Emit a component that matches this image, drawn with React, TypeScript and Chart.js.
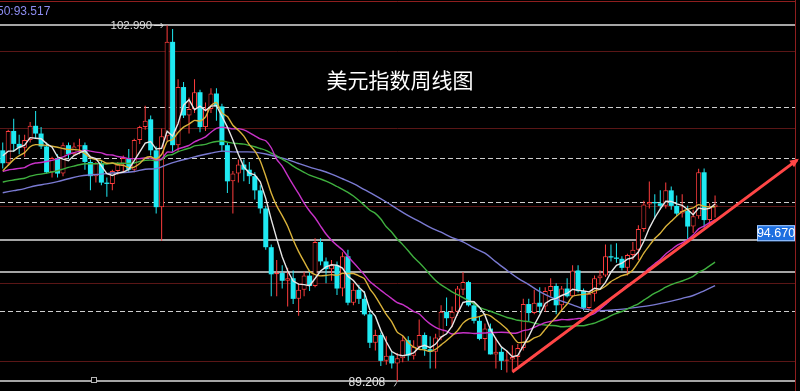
import React, { useEffect, useRef } from "react";
import { Chart, registerables } from "chart.js";

Chart.register(...registerables);

// ---- weekly U.S. dollar index data ----
const FIRST_WEEK_UTC = Date.UTC(2019, 7, 19);
const SLOT_COUNT = 146; // weeks shown plus empty room on the right

const OPEN = [98.15, 97.65, 98.90, 98.40, 98.25, 98.55, 99.10, 98.80, 98.30, 97.30,
  97.85, 97.25, 98.35, 98.00, 98.30, 98.35, 97.70, 97.15, 97.65, 96.90,
  96.85, 97.35, 97.60, 97.85, 97.40, 98.55, 99.05, 99.35, 98.15, 95.95,
  98.70, 102.35, 98.35, 100.60, 99.50, 99.75, 100.40, 99.05, 99.75, 100.35,
  99.85, 98.35, 96.95, 97.25, 97.60, 97.40, 97.15, 96.60, 95.90, 94.40,
  93.35, 93.40, 93.10, 93.20, 92.40, 92.75, 93.30, 92.90, 94.60, 93.85,
  93.55, 93.70, 92.80, 94.05, 92.25, 92.75, 92.40, 91.80, 90.70, 91.00,
  90.00, 90.20, 89.90, 90.10, 90.80, 90.20, 90.55, 91.00, 90.45, 90.35,
  90.90, 91.90, 91.65, 91.90, 92.75, 93.05, 92.15, 91.55, 90.85, 91.25,
  90.25, 90.35, 90.00, 90.05, 90.15, 90.50, 92.20, 91.85, 92.25, 92.10,
  92.70, 92.90, 92.15, 92.80, 92.50, 93.50, 92.70, 92.05, 92.60, 93.20,
  93.30, 94.05, 94.00, 93.95, 93.60, 94.10, 94.30, 95.10, 96.05, 96.15,
  96.10, 96.00, 96.60, 96.00, 95.70, 95.80, 95.20, 95.60, 97.30, 95.45,
  95.95];

const HIGH = [98.45, 98.95, 99.37, 98.75, 98.75, 99.25, 99.67, 99.05, 98.45, 97.90,
  98.00, 98.45, 98.45, 98.45, 98.60, 98.45, 97.80, 97.70, 97.75, 97.10,
  97.40, 97.70, 97.95, 98.20, 98.60, 99.10, 99.88, 99.50, 98.30, 99.00,
  102.99, 102.85, 100.90, 100.80, 100.20, 100.90, 100.50, 100.00, 100.55, 100.55,
  99.95, 98.45, 97.35, 97.80, 97.80, 97.70, 97.30, 96.80, 96.00, 94.50,
  93.90, 93.70, 93.60, 93.50, 93.00, 93.45, 93.45, 94.75, 94.75, 94.00,
  93.90, 93.85, 94.20, 94.30, 93.00, 92.95, 92.70, 91.90, 91.20, 91.10,
  90.95, 90.35, 90.30, 90.95, 90.95, 90.80, 91.60, 91.10, 90.95, 91.05,
  92.15, 92.45, 92.10, 92.90, 93.44, 93.10, 92.30, 91.70, 91.45, 91.45,
  90.90, 90.50, 90.40, 90.60, 90.65, 92.40, 92.40, 92.75, 92.85, 92.85,
  93.20, 93.00, 92.90, 93.20, 93.70, 93.70, 92.80, 92.65, 93.30, 93.50,
  94.50, 94.50, 94.55, 94.05, 94.15, 94.60, 95.25, 96.20, 96.94, 96.45,
  96.60, 96.90, 96.75, 96.40, 96.45, 96.00, 95.85, 97.44, 97.45, 96.10,
  96.40];

const LOW = [97.45, 97.55, 98.10, 98.00, 97.90, 98.45, 98.60, 98.20, 97.25, 97.10,
  97.10, 97.15, 97.85, 97.95, 98.00, 97.40, 96.60, 96.90, 96.80, 96.35,
  96.60, 97.20, 97.30, 97.30, 97.30, 98.40, 98.95, 97.95, 95.70, 94.65,
  98.50, 98.10, 98.10, 99.40, 98.80, 99.60, 98.85, 98.90, 99.60, 99.30,
  98.10, 96.50, 95.70, 96.90, 96.95, 96.85, 96.25, 95.70, 94.30, 92.50,
  92.50, 92.80, 92.10, 92.20, 91.75, 92.50, 92.70, 92.85, 93.70, 93.00,
  93.10, 92.55, 92.50, 92.15, 92.15, 92.20, 91.75, 90.50, 90.40, 89.80,
  89.85, 89.70, 89.208, 89.95, 90.00, 90.05, 90.45, 90.20, 89.70, 89.70,
  90.80, 91.35, 91.30, 91.75, 92.55, 92.10, 91.45, 90.80, 90.40, 90.25,
  89.70, 89.65, 89.55, 89.65, 89.80, 90.40, 91.50, 91.80, 91.85, 91.90,
  92.50, 91.80, 91.95, 92.45, 92.45, 92.65, 91.95, 91.95, 92.30, 92.95,
  93.25, 93.85, 93.80, 93.50, 93.30, 93.90, 93.90, 95.00, 95.90, 95.50,
  95.85, 95.90, 95.85, 95.60, 95.55, 94.63, 94.95, 95.50, 95.15, 95.25,
  95.55];

const CLOSE = [97.65, 98.90, 98.40, 98.25, 98.55, 99.10, 98.80, 98.30, 97.30, 97.85,
  97.25, 98.35, 98.00, 98.30, 98.35, 97.70, 97.15, 97.65, 96.90, 96.85,
  97.35, 97.60, 97.85, 97.40, 98.55, 99.05, 99.30, 98.15, 95.95, 98.70,
  102.35, 98.35, 100.60, 99.50, 99.75, 100.40, 99.05, 99.75, 100.35, 99.85,
  98.35, 96.95, 97.25, 97.60, 97.40, 97.15, 96.60, 95.90, 94.40, 93.35,
  93.40, 93.10, 93.20, 92.40, 92.75, 93.30, 92.90, 94.60, 93.85, 93.55,
  93.70, 92.80, 94.05, 92.25, 92.75, 92.40, 91.80, 90.70, 91.00, 90.00,
  90.20, 89.90, 90.10, 90.80, 90.20, 90.55, 91.00, 90.45, 90.35, 90.90,
  91.90, 91.65, 91.90, 92.80, 93.05, 92.15, 91.55, 90.85, 91.25, 90.25,
  90.35, 90.00, 90.05, 90.15, 90.50, 92.20, 91.85, 92.25, 92.10, 92.70,
  92.90, 92.15, 92.80, 92.50, 93.50, 92.70, 92.05, 92.60, 93.20, 93.30,
  94.05, 94.00, 93.95, 93.60, 94.10, 94.30, 95.10, 96.05, 96.15, 96.10,
  96.00, 96.60, 96.00, 95.70, 95.80, 95.20, 95.60, 97.30, 95.45, 95.95,
  96.05];

// moving averages
const MA5 = [97.94, 98.12, 98.12, 98.27, 98.35, 98.64, 98.62, 98.60, 98.41, 98.27,
  97.90, 97.81, 97.75, 97.95, 98.05, 98.14, 97.90, 97.83, 97.55, 97.25,
  97.18, 97.27, 97.31, 97.41, 97.75, 98.09, 98.43, 98.49, 98.20, 98.23,
  98.89, 98.70, 99.19, 99.90, 100.11, 99.72, 99.86, 99.69, 99.86, 99.88,
  99.47, 99.05, 98.55, 98.00, 97.51, 97.27, 97.20, 96.93, 96.29, 95.48,
  94.73, 94.03, 93.49, 93.09, 92.97, 92.95, 92.91, 93.19, 93.48, 93.64,
  93.72, 93.70, 93.59, 93.27, 93.11, 92.85, 92.65, 91.98, 91.73, 91.18,
  90.74, 90.36, 90.24, 90.20, 90.24, 90.31, 90.53, 90.60, 90.51, 90.65,
  90.92, 91.05, 91.34, 91.83, 92.26, 92.31, 92.29, 92.08, 91.77, 91.21,
  90.85, 90.54, 90.38, 90.16, 90.21, 90.58, 90.95, 91.39, 91.78, 92.22,
  92.36, 92.42, 92.53, 92.61, 92.77, 92.73, 92.71, 92.67, 92.81, 92.77,
  93.04, 93.43, 93.70, 93.78, 93.94, 93.99, 94.21, 94.63, 95.14, 95.54,
  95.88, 96.18, 96.17, 96.08, 96.02, 95.86, 95.66, 95.92, 95.87, 95.90,
  96.07];

const MA10 = [97.36, 97.57, 97.79, 97.94, 98.06, 98.29, 98.37, 98.36, 98.34, 98.31,
  98.27, 98.22, 98.18, 98.18, 98.16, 98.02, 97.86, 97.79, 97.75, 97.65,
  97.66, 97.59, 97.57, 97.48, 97.50, 97.64, 97.85, 97.90, 97.81, 97.99,
  98.49, 98.57, 98.84, 99.05, 99.17, 99.31, 99.28, 99.44, 99.88, 100.00,
  99.60, 99.46, 99.12, 98.93, 98.70, 98.37, 98.13, 97.74, 97.15, 96.50,
  96.00, 95.62, 95.21, 94.69, 94.23, 93.84, 93.47, 93.34, 93.29, 93.31,
  93.34, 93.31, 93.39, 93.38, 93.38, 93.29, 93.18, 92.79, 92.50, 92.15,
  91.80, 91.51, 91.11, 90.97, 90.71, 90.53, 90.45, 90.42, 90.36, 90.45,
  90.62, 90.79, 90.97, 91.17, 91.46, 91.62, 91.67, 91.71, 91.80, 91.74,
  91.58, 91.42, 91.23, 90.97, 90.71, 90.72, 90.75, 90.89, 90.97, 91.22,
  91.47, 91.69, 91.96, 92.20, 92.50, 92.55, 92.57, 92.60, 92.71, 92.77,
  92.89, 93.07, 93.19, 93.30, 93.36, 93.52, 93.82, 94.17, 94.46, 94.74,
  94.94, 95.20, 95.40, 95.61, 95.78, 95.87, 95.92, 96.05, 95.98, 95.96,
  95.97];

const MA20 = [97.33, 97.39, 97.42, 97.45, 97.48, 97.60, 97.66, 97.68, 97.72, 97.76,
  97.82, 97.90, 97.99, 98.06, 98.11, 98.16, 98.12, 98.08, 98.05, 97.98,
  97.97, 97.91, 97.88, 97.83, 97.83, 97.83, 97.86, 97.85, 97.78, 97.82,
  98.08, 98.08, 98.21, 98.27, 98.34, 98.48, 98.57, 98.67, 98.85, 99.00,
  99.05, 99.02, 98.98, 98.99, 98.94, 98.84, 98.71, 98.59, 98.52, 98.25,
  97.80, 97.54, 97.17, 96.81, 96.47, 96.11, 95.80, 95.54, 95.22, 94.91,
  94.67, 94.47, 94.30, 94.04, 93.81, 93.57, 93.33, 93.07, 92.90, 92.73,
  92.57, 92.41, 92.25, 92.18, 92.05, 91.91, 91.82, 91.61, 91.43, 91.30,
  91.21, 91.15, 91.04, 91.07, 91.09, 91.08, 91.06, 91.07, 91.08, 91.10,
  91.10, 91.11, 91.10, 91.07, 91.09, 91.17, 91.21, 91.30, 91.39, 91.48,
  91.53, 91.56, 91.60, 91.59, 91.61, 91.64, 91.66, 91.75, 91.84, 92.00,
  92.18, 92.38, 92.58, 92.75, 92.93, 93.04, 93.20, 93.39, 93.59, 93.76,
  93.92, 94.14, 94.30, 94.46, 94.57, 94.70, 94.87, 95.11, 95.22, 95.35,
  95.46];

const MA40 = [96.92, 96.97, 97.00, 97.04, 97.07, 97.15, 97.20, 97.23, 97.27, 97.31,
  97.36, 97.42, 97.49, 97.54, 97.59, 97.63, 97.63, 97.63, 97.64, 97.62,
  97.65, 97.65, 97.65, 97.64, 97.66, 97.72, 97.76, 97.77, 97.75, 97.79,
  97.95, 97.99, 98.10, 98.17, 98.23, 98.32, 98.35, 98.38, 98.45, 98.49,
  98.51, 98.47, 98.43, 98.41, 98.39, 98.34, 98.29, 98.22, 98.15, 98.04,
  97.94, 97.81, 97.69, 97.54, 97.41, 97.30, 97.19, 97.11, 97.04, 96.96,
  96.86, 96.75, 96.64, 96.52, 96.38, 96.21, 96.02, 95.83, 95.71, 95.49,
  95.19, 94.98, 94.71, 94.50, 94.26, 94.01, 93.81, 93.58, 93.33, 93.11,
  92.94, 92.81, 92.67, 92.56, 92.45, 92.33, 92.20, 92.07, 91.99, 91.92,
  91.84, 91.76, 91.68, 91.63, 91.57, 91.54, 91.52, 91.46, 91.41, 91.39,
  91.37, 91.36, 91.32, 91.33, 91.35, 91.36, 91.36, 91.41, 91.46, 91.55,
  91.64, 91.75, 91.84, 91.91, 92.01, 92.11, 92.21, 92.35, 92.49, 92.62,
  92.73, 92.85, 92.95, 93.03, 93.09, 93.17, 93.27, 93.43, 93.53, 93.68,
  93.82];

// 60-week average, sampled every second week
const MA60_BIWEEKLY = [96.51, 96.59, 96.67, 96.78, 96.85, 96.94, 97.05, 97.15, 97.20, 97.23,
  97.27, 97.29, 97.33, 97.42, 97.44, 97.60, 97.73, 97.84, 97.95, 98.04,
  98.12, 98.09, 98.09, 98.08, 98.01, 97.90, 97.79, 97.64, 97.50, 97.38,
  97.23, 97.05, 96.86, 96.63, 96.40, 96.15, 95.88, 95.62, 95.40, 95.17,
  94.98, 94.77, 94.61, 94.37, 94.17, 93.83, 93.51, 93.20, 92.95, 92.68,
  92.47, 92.31, 92.17, 92.02, 91.94, 91.95, 91.98, 92.02, 92.08, 92.14,
  92.22, 92.31, 92.42, 92.53, 92.71, 92.91];

// support trend line (week index, price)
const TREND_WEEKS = [93, 145];
const TREND_PRICES = [89.57, 97.78];

// horizontal levels
const PRICE_GRID = [102, 99, 96, 93, 90];
const DASHED_LEVELS = [99.83, 97.85, 96.15, 91.93];
const SOLID_LEVELS = [102.99, 94.67, 93.44, 89.208];

const PEAK_WEEK = 30;
const PEAK_LABEL = "102.990";
const TROUGH_WEEK = 72;
const TROUGH_LABEL = "89.208";
const MARKED_PRICE = 94.67;
const MARKED_LABEL = "94.670";
const MA_READOUT = "50:93.517";
const TITLE = "美元指数周线图";

const Y_MIN = 88.833;
const Y_MAX = 103.97;

const WEEKS = Array.from({ length: SLOT_COUNT }, (_, i) =>
  new Date(FIRST_WEEK_UTC + i * 7 * 86400000).toISOString().slice(0, 10)
);

const UP = "#ff3d3d";
const DOWN = "#1fe9f2";
const FRAME_RIGHT = 795;

const overlay = {
  id: "overlay",
  beforeDatasetsDraw(chart: any) {
    const { ctx } = chart;
    const y = chart.scales.y;
    const hline = (v: number, color: string, width: number, dash: number[]) => {
      const py = Math.round(y.getPixelForValue(v)) + (width % 2 ? 0.5 : 0);
      ctx.beginPath();
      ctx.setLineDash(dash);
      ctx.strokeStyle = color;
      ctx.lineWidth = width;
      ctx.moveTo(0, py);
      ctx.lineTo(FRAME_RIGHT, py);
      ctx.stroke();
    };
    ctx.save();
    PRICE_GRID.forEach((v) => hline(v, "#5a1616", 1, []));
    DASHED_LEVELS.forEach((v) => hline(v, "#cfcfcf", 1, [5, 3]));
    SOLID_LEVELS.forEach((v) => hline(v, "#a5a5a5", 2, []));
    ctx.setLineDash([]);
    ctx.strokeStyle = "#8e1e1e";
    ctx.lineWidth = 1;
    ctx.beginPath();
    ctx.moveTo(0, 1.5);
    ctx.lineTo(FRAME_RIGHT + 0.5, 1.5);
    ctx.moveTo(FRAME_RIGHT + 0.5, 0);
    ctx.lineTo(FRAME_RIGHT + 0.5, chart.height);
    ctx.stroke();
    ctx.restore();
  },
  afterDatasetsDraw(chart: any) {
    const { ctx } = chart;
    const x = chart.scales.x;
    const y = chart.scales.y;
    ctx.save();

    // arrow head on the trend line
    const trendMeta = chart.getDatasetMeta(0);
    const a = trendMeta.data[TREND_WEEKS[0]];
    const b = trendMeta.data[TREND_WEEKS[1]];
    if (a && b) {
      const ang = Math.atan2(b.y - a.y, b.x - a.x);
      const cos = Math.cos(ang), sin = Math.sin(ang);
      const tipX = b.x + cos * 2, tipY = b.y + sin * 2;
      ctx.fillStyle = "#ff4646";
      ctx.beginPath();
      ctx.moveTo(tipX, tipY);
      ctx.lineTo(tipX - cos * 9 - sin * 4, tipY - sin * 9 + cos * 4);
      ctx.lineTo(tipX - cos * 9 + sin * 4, tipY - sin * 9 - cos * 4);
      ctx.closePath();
      ctx.fill();
    }

    // peak label
    const px = x.getPixelForValue(PEAK_WEEK);
    const py = y.getPixelForValue(HIGH[PEAK_WEEK]);
    ctx.font = "11.5px 'Liberation Sans', Arial, sans-serif";
    ctx.fillStyle = "#dcdcdc";
    ctx.textAlign = "right";
    ctx.textBaseline = "middle";
    ctx.fillText(PEAK_LABEL, px - 15, py + 1);
    ctx.strokeStyle = "#dcdcdc";
    ctx.lineWidth = 1;
    ctx.beginPath();
    ctx.moveTo(px - 13, Math.round(py) + 0.5);
    ctx.lineTo(px - 4, Math.round(py) + 0.5);
    ctx.moveTo(px - 6.5, Math.round(py) - 2);
    ctx.lineTo(px - 4, Math.round(py) + 0.5);
    ctx.lineTo(px - 6.5, Math.round(py) + 3);
    ctx.stroke();

    // trough label
    const tx = x.getPixelForValue(TROUGH_WEEK);
    const ty = y.getPixelForValue(LOW[TROUGH_WEEK]);
    ctx.font = "12px 'Liberation Sans', Arial, sans-serif";
    ctx.fillStyle = "#e4e4e4";
    ctx.fillText(TROUGH_LABEL, tx - 12, ty + 1.5);
    ctx.strokeStyle = "#cfcfcf";
    ctx.beginPath();
    ctx.moveTo(tx - 3, ty + 5);
    ctx.lineTo(tx - 0.5, ty + 1);
    ctx.stroke();

    // small marker on the bottom line
    ctx.fillStyle = "#000";
    ctx.fillRect(91, 377, 6, 6);
    ctx.strokeStyle = "#b5b5b5";
    ctx.strokeRect(91.5, 377.5, 5, 5);

    // marked price box
    const my = y.getPixelForValue(MARKED_PRICE);
    ctx.fillStyle = "#1d6fe0";
    ctx.fillRect(757, my - 15, 38, 16);
    ctx.strokeStyle = "#a9cdff";
    ctx.strokeRect(757.5, my - 14.5, 37, 15);
    ctx.fillStyle = "#ffffff";
    ctx.font = "12.5px 'Liberation Sans', Arial, sans-serif";
    ctx.textAlign = "center";
    ctx.fillText(MARKED_LABEL, 776, my - 6.5);

    // moving-average readout
    ctx.textAlign = "left";
    ctx.font = "12px 'Liberation Sans', Arial, sans-serif";
    ctx.fillStyle = "#8d8df0";
    ctx.fillText(MA_READOUT, -3, 12);

    // title
    ctx.textAlign = "center";
    ctx.font = "21px 'Noto Sans CJK SC', sans-serif";
    ctx.fillStyle = "#ffffff";
    ctx.fillText(TITLE, 400, 80);

    ctx.restore();
  },
};

export default function App() {
  const canvasRef = useRef<HTMLCanvasElement | null>(null);

  useEffect(() => {
    const canvas = canvasRef.current;
    if (!canvas) return;

    const isUp = CLOSE.map((c, i) => c >= OPEN[i]);
    const bodies = OPEN.map((o, i) => [o, CLOSE[i]]);
    const wicks = LOW.map((l, i) => [l, HIGH[i]]);
    const ma60 = CLOSE.map((_, i) => (i % 2 === 0 ? MA60_BIWEEKLY[i / 2] : null));
    const trend = WEEKS.map((_, i) => {
      const k = TREND_WEEKS.indexOf(i);
      return k >= 0 ? TREND_PRICES[k] : null;
    });

    const maLine = (label: string, data: (number | null)[], color: string, tension: number) => ({
      type: "line" as const,
      label,
      data,
      borderColor: color,
      borderWidth: 1.4,
      pointRadius: 0,
      tension,
      spanGaps: true,
      order: 1,
    });

    const chart = new Chart(canvas, {
      type: "bar",
      data: {
        labels: WEEKS,
        datasets: [
          {
            type: "line",
            label: "trend",
            data: trend,
            borderColor: "#ff4646",
            borderWidth: 3,
            pointRadius: 0,
            spanGaps: true,
            order: 0,
          } as any,
          maLine("MA5", MA5, "#e6e6e6", 0),
          maLine("MA10", MA10, "#d9b23a", 0.2),
          maLine("MA20", MA20, "#c832c8", 0.2),
          maLine("MA40", MA40, "#3fb03f", 0.2),
          maLine("MA60", ma60, "#7a7ad2", 0.35),
          {
            type: "bar",
            label: "body",
            data: bodies,
            grouped: false,
            barThickness: 5,
            inflateAmount: 0,
            backgroundColor: isUp.map((u) => (u ? "#000000" : DOWN)),
            borderColor: isUp.map((u) => (u ? UP : DOWN)),
            borderWidth: isUp.map((u) => (u ? 1 : 0)),
            borderSkipped: false,
            order: 2,
          } as any,
          {
            type: "bar",
            label: "wick",
            data: wicks,
            grouped: false,
            barThickness: 1,
            inflateAmount: 0,
            backgroundColor: isUp.map((u) => (u ? UP : DOWN)),
            borderWidth: 0,
            order: 3,
          } as any,
        ],
      },
      options: {
        responsive: false,
        maintainAspectRatio: false,
        animation: false,
        devicePixelRatio: 1,
        events: [],
        layout: { padding: 0 },
        plugins: { legend: { display: false }, tooltip: { enabled: false } },
        scales: {
          x: { display: false, offset: true, grid: { display: false } },
          y: { display: false, min: Y_MIN, max: Y_MAX, grid: { display: false } },
        },
      },
      plugins: [overlay],
    });

    return () => chart.destroy();
  }, []);

  return (
    <div
      style={{
        position: "fixed",
        left: 0,
        top: 0,
        width: 800,
        height: 391,
        background: "#000",
        overflow: "hidden",
      }}
    >
      <canvas ref={canvasRef} width={800} height={391} style={{ display: "block" }} />
    </div>
  );
}
